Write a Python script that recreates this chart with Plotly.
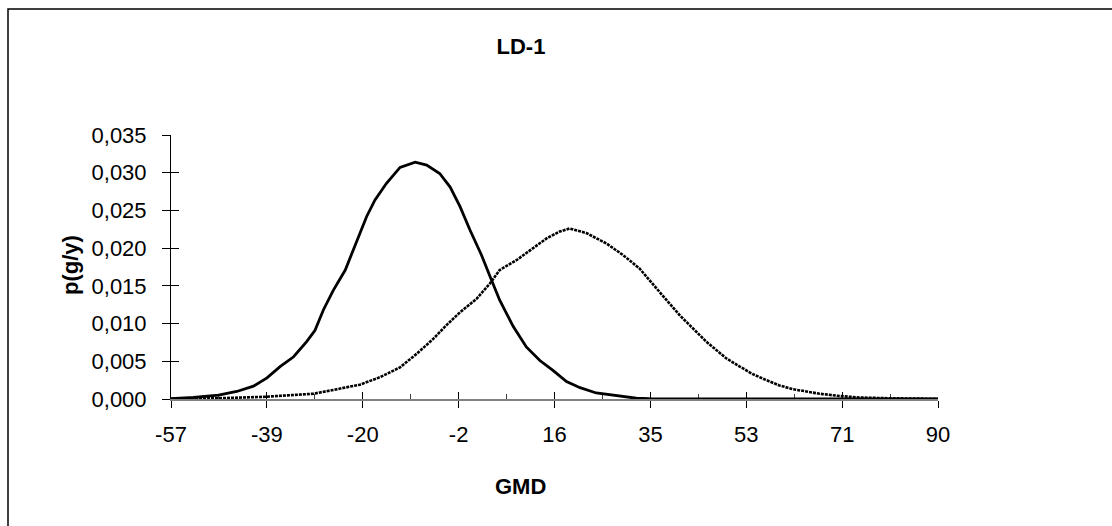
import plotly.graph_objects as go

# ---- data ----
GMD_SOLID = [-57.0, -52.7, -47.9, -44.4, -41.2, -38.6, -36.1, -33.5, -31.0, -29.4,
             -27.8, -25.9, -23.6, -22.1, -20.8, -19.5, -17.9, -15.7, -13.1, -10.2,
             -8.0, -5.5, -3.5, -1.6, 0.3, 2.5, 4.4, 6.0, 8.6, 11.1,
             13.7, 16.2, 18.8, 21.4, 24.5, 28.4, 32.2, 34.7, 45.0, 60.0, 75.0, 90.0]
P_SOLID = [0.00005, 0.0002, 0.0005, 0.0010, 0.0017, 0.0028, 0.0043, 0.0056, 0.0076, 0.0091,
           0.0118, 0.0144, 0.0171, 0.0197, 0.0222, 0.0242, 0.0264, 0.0286, 0.0307, 0.0314,
           0.0310, 0.0299, 0.0281, 0.0255, 0.0224, 0.0191, 0.0158, 0.0131, 0.0096, 0.0069,
           0.0051, 0.0038, 0.0023, 0.0015, 0.0008, 0.0004, 0.0001, 0.00003, 0.0, 0.0, 0.0, 0.0]

GMD_DOTTED = [-57.0, -47.9, -38.8, -33.5, -29.7, -25.9, -20.8, -16.9, -13.1, -9.9,
              -6.7, -4.2, -1.6, 1.6, 4.1, 6.0, 9.2, 12.4, 15.0, 17.5,
              19.4, 22.6, 26.5, 29.6, 32.8, 36.0, 40.5, 45.6, 49.4, 52.0,
              54.5, 57.1, 59.6, 62.2, 64.7, 67.3, 71.1, 74.9, 80.7, 90.0]
P_DOTTED = [0.00002, 0.0001, 0.0003, 0.0005, 0.0007, 0.0012, 0.0019, 0.0029, 0.0042, 0.0060,
            0.0080, 0.0098, 0.0115, 0.0133, 0.0153, 0.0171, 0.0184, 0.0200, 0.0213, 0.0222,
            0.0226, 0.0220, 0.0206, 0.0191, 0.0173, 0.0147, 0.0111, 0.0076, 0.0054, 0.0043,
            0.0033, 0.0025, 0.0018, 0.0013, 0.0010, 0.0007, 0.0004, 0.0002, 0.0001, 0.00002]

X_TICK_LABELS = ["-57", "-39", "-20", "-2", "16", "35", "53", "71", "90"]
X_MIN, X_MAX = -57.0, 90.0
Y_MAX = 0.035

TITLE = "LD-1"
X_TITLE = "GMD"
Y_TITLE = "p(g/y)"

# ---- layout geometry (pixels) ----
W, H = 1112, 526
L, R, T, B = 171, 938, 135, 399

def px_x(p):
    return (p - L) / (R - L)

def px_y(p):
    return (B - p) / (B - T)

n = len(X_TICK_LABELS)
step = (X_MAX - X_MIN) / (n - 1)
tickvals = [X_MIN + i * step for i in range(n)]

FONT = "Liberation Sans, Arial, sans-serif"

fig = go.Figure()
fig.add_trace(go.Scatter(x=GMD_SOLID, y=P_SOLID, mode="lines",
                         line=dict(color="black", width=2.8), showlegend=False))
fig.add_trace(go.Scatter(x=GMD_DOTTED, y=P_DOTTED, mode="lines",
                         line=dict(color="black", width=2.6, dash="3px,1px"),
                         showlegend=False))
# empty trace to activate overlay axes
fig.add_trace(go.Scatter(x=[], y=[], xaxis="x2", yaxis="y2", showlegend=False))

axis_font = dict(family=FONT, size=22, color="black")

fig.update_layout(
    width=W, height=H,
    margin=dict(l=L, r=W - R, t=T, b=H - B, pad=0),
    paper_bgcolor="white", plot_bgcolor="white",
    separators=", ",
    showlegend=False,
    xaxis=dict(range=[X_MIN, X_MAX], tickvals=tickvals, ticktext=X_TICK_LABELS,
               showgrid=False, zeroline=False, showline=True, linecolor="#808080",
               linewidth=2, ticks="outside", ticklen=7, tickwidth=1, tickcolor="black",
               tickfont=axis_font, ticklabelstandoff=8, layer="below traces"),
    xaxis2=dict(range=[X_MIN, X_MAX], overlaying="x", anchor="y", side="bottom",
                tickvals=tickvals, showticklabels=False, showgrid=False, zeroline=False,
                showline=False, ticks="inside", ticklen=7, tickwidth=1, tickcolor="black",
                minor=dict(ticks="inside", ticklen=5, tickwidth=1, tickcolor="#404040",
                           tick0=X_MIN, dtick=step / 2, showgrid=False),
                layer="below traces"),
    yaxis=dict(range=[0, Y_MAX], dtick=0.005, tick0=0, tickformat=".3f",
               showgrid=False, zeroline=False, showline=True, linecolor="black",
               linewidth=1, ticks="outside", ticklen=8, tickwidth=1, tickcolor="black",
               tickfont=axis_font, ticklabelstandoff=11, layer="below traces"),
    yaxis2=dict(range=[0, Y_MAX], overlaying="y", anchor="x", side="left",
                dtick=0.005, tick0=0, showticklabels=False, showgrid=False,
                zeroline=False, showline=False, ticks="inside", ticklen=8,
                tickwidth=1, tickcolor="black", layer="below traces"),
    title=dict(text="<b>" + TITLE + "</b>", font=dict(family=FONT, size=22, color="black"),
               xref="container", yref="container", x=521 / W, y=1 - 46 / H,
               xanchor="center", yanchor="middle"),
    annotations=[
        dict(text="<b>" + X_TITLE + "</b>", xref="paper", yref="paper",
             x=px_x(520), y=px_y(486), xanchor="center", yanchor="middle",
             showarrow=False, font=dict(family=FONT, size=22, color="black")),
        dict(text="<b>" + Y_TITLE + "</b>", xref="paper", yref="paper",
             x=px_x(70), y=px_y(265), xanchor="center", yanchor="middle",
             textangle=-90, showarrow=False, font=dict(family=FONT, size=22, color="black")),
    ],
    shapes=[
        dict(type="rect", xref="paper", yref="paper",
             x0=px_x(8), x1=px_x(1200), y0=px_y(9), y1=px_y(700),
             line=dict(color="black", width=1.5), fillcolor="rgba(0,0,0,0)", layer="below"),
    ],
)

fig.write_html("out.html")
